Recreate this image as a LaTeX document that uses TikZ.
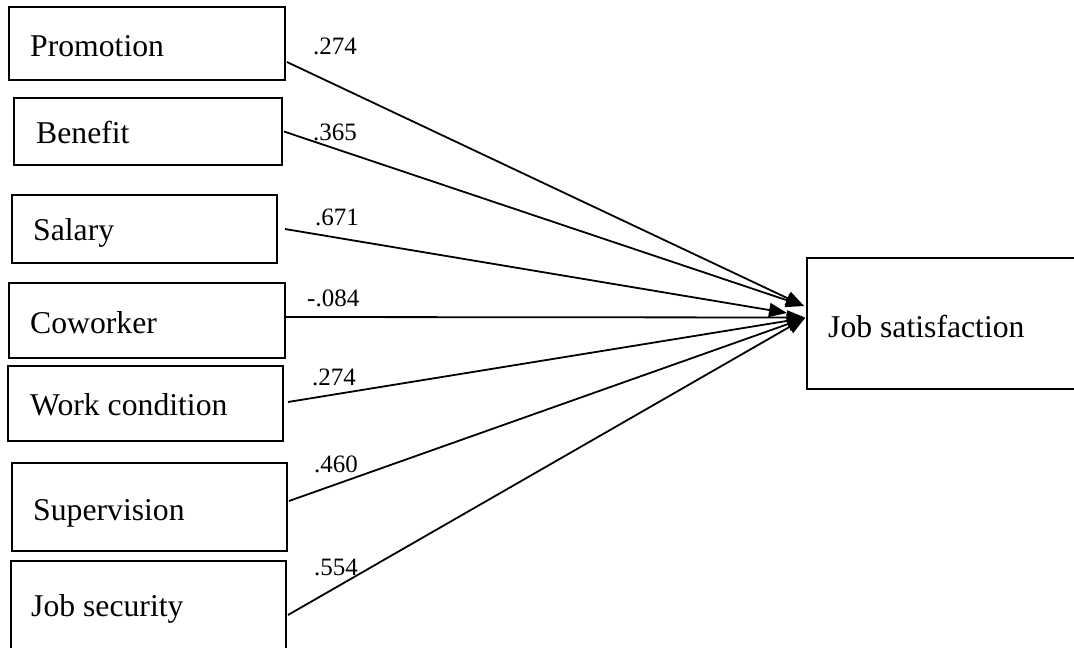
\documentclass[tikz,border=0pt]{standalone}
\usepackage{fontspec}
\setmainfont{Liberation Serif}
\usetikzlibrary{arrows.meta}
\tikzset{
  varbox/.style={draw, line width=1.9pt, rectangle, inner sep=0pt},
  vartext/.style={anchor=base west, inner sep=0pt, font=\fontsize{31.7pt}{36pt}\selectfont},
  coeftext/.style={anchor=base west, inner sep=0pt, font=\fontsize{25pt}{30pt}\selectfont},
  effect/.style={line width=1.8pt, -{Triangle[length=18pt,width=14pt]}}
}
\begin{document}
\begin{tikzpicture}[x=1pt,y=-1pt]
\useasboundingbox[fill=white] (0,0) rectangle (1074,648);

% predictor boxes
\node[varbox, minimum width=276pt, minimum height=73pt] (promo)   at (147,43.5)  {};
\node[varbox, minimum width=268pt, minimum height=67pt] (benefit) at (148,131.5) {};
\node[varbox, minimum width=265pt, minimum height=68pt] (salary)  at (144.5,229) {};
\node[varbox, minimum width=276pt, minimum height=75pt] (cowork)  at (147,320.5) {};
\node[varbox, minimum width=275pt, minimum height=75pt] (workc)   at (145.5,403.5) {};
\node[varbox, minimum width=275pt, minimum height=88pt] (superv)  at (149.5,507) {};
\node[varbox, minimum width=275pt, minimum height=99pt] (jobsec)  at (148.5,610.5) {};
% outcome box
\node[varbox, minimum width=283pt, minimum height=131pt] (jobsat) at (948.5,323.5) {};

% box texts
\node[vartext] (t-promo)   at (30,56)  {Promotion};
\node[vartext] (t-benefit) at (36,143) {Benefit};
\node[vartext] (t-salary)  at (33,240) {Salary};
\node[vartext] (t-cowork)  at (30,333) {Coworker};
\node[vartext] (t-workc)   at (30,415) {Work condition};
\node[vartext] (t-superv)  at (33,520) {Supervision};
\node[vartext] (t-jobsec)  at (31,616) {Job security};
\node[vartext] (t-jobsat)  at (828,337) {Job satisfaction};

% paths to job satisfaction
\draw[effect] ([yshift=-18.5pt,xshift=1pt]promo.east) -- ([yshift=17.5pt,xshift=-2pt]jobsat.west);
\draw[effect] ([xshift=1pt]benefit.east) -- ([yshift=17.5pt,xshift=-2pt]jobsat.west);
\draw[effect] ([xshift=7pt]salary.east) -- ([yshift=10.5pt,xshift=-19pt]jobsat.west);
\draw[effect] ([yshift=3.5pt]cowork.east) -- ([yshift=6pt,xshift=-1pt]jobsat.west);
\draw[effect] ([yshift=1.5pt,xshift=4pt]workc.east) -- ([yshift=5.5pt,xshift=-1pt]jobsat.west);
\draw[effect] ([yshift=6pt,xshift=1pt]superv.east) -- ([yshift=5.5pt,xshift=-1pt]jobsat.west);
\draw[effect] ([yshift=-4.5pt,xshift=1pt]jobsec.east) -- ([yshift=5.5pt,xshift=-1pt]jobsat.west);

% path coefficients
\node[coeftext] (c-promo)   at (313,54)  {.274};
\node[coeftext] (c-benefit) at (313,140) {.365};
\node[coeftext] (c-salary)  at (315,225) {.671};
\node[coeftext] (c-cowork)  at (307,306) {-.084};
\node[coeftext] (c-workc)   at (312,385) {.274};
\node[coeftext] (c-superv)  at (314,472) {.460};
\node[coeftext] (c-jobsec)  at (314,575) {.554};
\end{tikzpicture}
\end{document}
